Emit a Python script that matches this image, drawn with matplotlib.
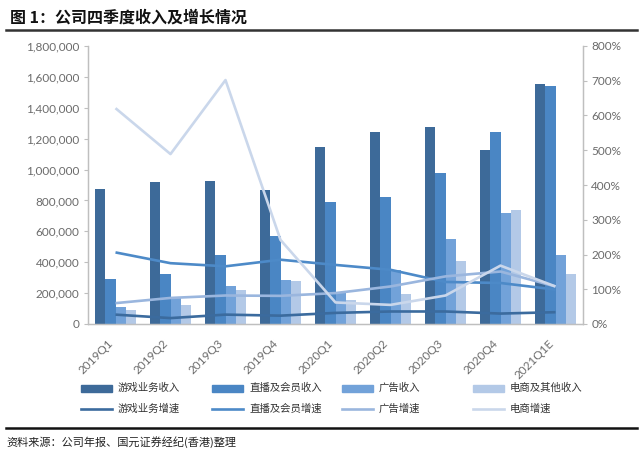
import numpy as np
import matplotlib.pyplot as plt
from matplotlib.patches import Rectangle
from matplotlib.lines import Line2D
from matplotlib.ticker import FuncFormatter

plt.rcParams['font.family'] = ['Noto Sans CJK SC', 'DejaVu Sans']

quarters = ['2019Q1', '2019Q2', '2019Q3', '2019Q4', '2020Q1', '2020Q2', '2020Q3', '2020Q4', '2021Q1E']

# 收入
game_rev = [873000, 918000, 929000, 867000, 1145000, 1244000, 1274000, 1127000, 1552000]
live_rev = [291000, 323000, 448000, 569000, 789000, 821000, 977000, 1244000, 1541000]
ad_rev = [110000, 175000, 246000, 287000, 210000, 347000, 552000, 718000, 446000]
ecom_rev = [93000, 120000, 222000, 276000, 157000, 194000, 409000, 739000, 325000]

# 增速 (%)
game_growth = [27, 17, 27, 24, 32, 36, 36, 30, 34]
live_growth = [206, 175, 166, 185, 170, 156, 121, 118, 99]
ad_growth = [60, 75, 82, 81, 89, 108, 137, 151, 108]
ecom_growth = [621, 489, 702, 242, 62, 55, 82, 168, 108]

bar_colors = ['#3D6A99', '#4A86C4', '#72A2D9', '#B3C9E7']
line_colors = ['#3B6B9E', '#4D8AC8', '#9AB6DE', '#CAD7EB']
bar_labels = ['游戏业务收入', '直播及会员收入', '广告收入', '电商及其他收入']
line_labels = ['游戏业务增速', '直播及会员增速', '广告增速', '电商增速']

fig = plt.figure(figsize=(6.4, 4.49), dpi=100)
ax = fig.add_axes([88 / 640, 1 - 324 / 449, (583 - 88) / 640, (324 - 46) / 449])
ax2 = ax.twinx()

x = np.arange(len(quarters))
w = 0.182
revs = [game_rev, live_rev, ad_rev, ecom_rev]
for i, (vals, c) in enumerate(zip(revs, bar_colors)):
    ax.bar(x + (i - 1.5) * w, vals, width=w, color=c, linewidth=0)

growths = [game_growth, live_growth, ad_growth, ecom_growth]
for vals, c in zip(growths, line_colors):
    ax2.plot(x, vals, color=c, linewidth=1.9, solid_capstyle='butt')

gray = '#6B6B6B'
spine_c = '#BFBFBF'
ax.set_xlim(-0.5, len(quarters) - 0.5)
ax.set_ylim(0, 1800000)
ax.set_yticks(np.arange(0, 1800001, 200000))
ax.yaxis.set_major_formatter(FuncFormatter(lambda v, p: f'{int(v):,}'))
ax2.set_ylim(0, 800)
ax2.set_yticks(np.arange(0, 801, 100))
ax2.set_yticklabels([f'{i}%' for i in range(0, 801, 100)])

ax.set_xticks(x)
ax.set_xticklabels(quarters, rotation=45, ha='right', va='top')
ax.tick_params(axis='x', length=0, pad=10, labelsize=8.5, labelcolor=gray)
ax.tick_params(axis='y', length=3, color=spine_c, labelsize=8.5, labelcolor=gray, pad=3)
ax2.tick_params(axis='y', length=3, color=spine_c, labelsize=8.5, labelcolor=gray, pad=3)
for a in (ax, ax2):
    a.spines['top'].set_visible(False)
    for s in ['left', 'right', 'bottom']:
        a.spines[s].set_color(spine_c)
        a.spines[s].set_linewidth(0.9)
for lbl in ax.get_xticklabels() + ax.get_yticklabels() + ax2.get_yticklabels():
    lbl.set_family(['Lato', 'DejaVu Sans'])

# 标题和分隔线
fig.text(10 / 640, 1 - 18 / 449, '图 1：公司四季度收入及增长情况', fontsize=11.5,
         fontweight='bold', ha='left', va='center', color='#111111')
fig.add_artist(Line2D([6 / 640, 637 / 640], [1 - 30 / 449] * 2, color='#333333', linewidth=1.8))
fig.add_artist(Line2D([6 / 640, 637 / 640], [1 - 428 / 449] * 2, color='#111111', linewidth=1.8))
fig.text(6 / 640, 1 - 442 / 449, '资料来源：公司年报、国元证券经纪(香港)整理', fontsize=8,
         ha='left', va='center', color='#222222')

# 图例
col_x = [81, 212, 342, 473]
row1_y, row2_y = 388, 409
for i in range(4):
    x0 = col_x[i] / 640
    fig.add_artist(Rectangle((x0, 1 - (row1_y + 3.5) / 449), 31 / 640, 7 / 449,
                             color=bar_colors[i], transform=fig.transFigure))
    fig.text((col_x[i] + 37) / 640, 1 - row1_y / 449, bar_labels[i], fontsize=7.5,
             ha='left', va='center', color='#333333')
    fig.add_artist(Line2D([x0, x0 + 31 / 640], [1 - row2_y / 449] * 2,
                          color=line_colors[i], linewidth=1.9))
    fig.text((col_x[i] + 37) / 640, 1 - row2_y / 449, line_labels[i], fontsize=7.5,
             ha='left', va='center', color='#333333')

fig.savefig('out.png', dpi=100)
